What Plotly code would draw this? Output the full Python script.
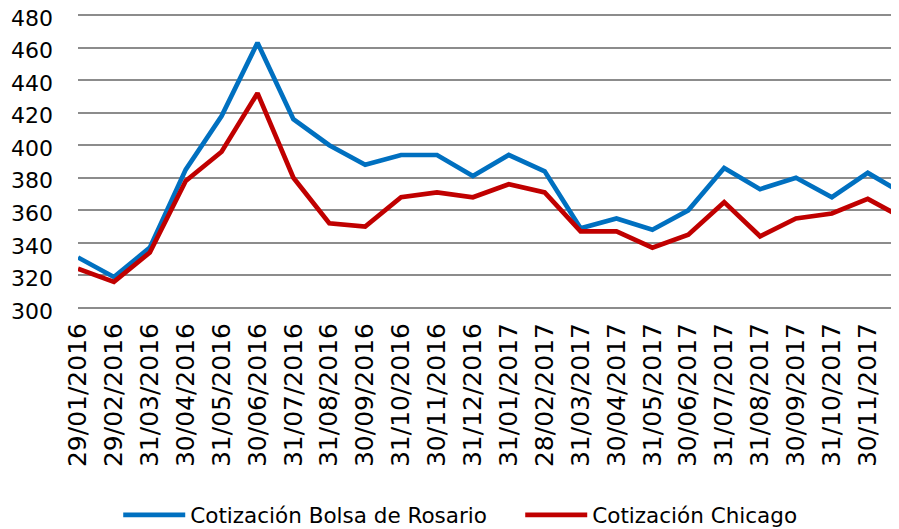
import plotly.graph_objects as go

# Monthly closing dates (last one sits past the visible edge, as in the source chart)
DATES = [
    "29/01/2016", "29/02/2016", "31/03/2016", "30/04/2016", "31/05/2016",
    "30/06/2016", "31/07/2016", "31/08/2016", "30/09/2016", "31/10/2016",
    "30/11/2016", "31/12/2016", "31/01/2017", "28/02/2017", "31/03/2017",
    "30/04/2017", "31/05/2017", "30/06/2017", "31/07/2017", "31/08/2017",
    "30/09/2017", "31/10/2017", "30/11/2017", "31/12/2017",
]

ROSARIO = [
    331, 319, 337, 385, 418, 463, 416, 400, 388, 394, 394, 381,
    394, 384, 349, 355, 348, 360, 386, 373, 380, 368, 383, 370,
]

CHICAGO = [
    324, 316, 334, 378, 396, 432, 380, 352, 350, 368, 371, 368,
    376, 371, 347, 347, 337, 345, 365, 344, 355, 358, 367, 355,
]

FONT = "DejaVu Sans"

fig = go.Figure()

fig.add_trace(
    go.Scatter(
        x=DATES,
        y=ROSARIO,
        name="Cotización Bolsa de Rosario",
        mode="lines",
        line=dict(color="#0070C0", width=4.7),
    )
)
fig.add_trace(
    go.Scatter(
        x=DATES,
        y=CHICAGO,
        name="Cotización Chicago",
        mode="lines",
        line=dict(color="#C00000", width=4.7),
    )
)

# the page body adds an 8px margin, so the figure is a bit smaller than the window
fig.update_layout(
    width=891,
    height=521,
    margin=dict(l=70, r=0, t=6, b=220, autoexpand=False),
    paper_bgcolor="white",
    plot_bgcolor="white",
    font=dict(family=FONT, color="black"),
    showlegend=True,
    legend=dict(
        orientation="h",
        x=0.049,
        xanchor="left",
        y=-0.698,
        yanchor="middle",
        font=dict(size=21.5, family=FONT),
        itemwidth=62,
        entrywidth=325,
        entrywidthmode="pixels",
        bgcolor="rgba(0,0,0,0)",
    ),
    xaxis=dict(
        type="category",
        range=[0, 22.87],
        tickmode="linear",
        tick0=0,
        dtick=1,
        tickangle=-90,
        tickfont=dict(size=25),
        ticklabelstandoff=8,
        showgrid=False,
        showline=False,
        zeroline=False,
        ticks="",
        automargin=False,
    ),
    yaxis=dict(
        range=[299.3, 480.7],
        tickmode="linear",
        tick0=300,
        dtick=20,
        tickfont=dict(size=22),
        ticklabelstandoff=24,
        ticklabelshift=3,
        ticklabeloverflow="allow",
        showgrid=True,
        gridcolor="#8c8c8c",
        gridwidth=2,
        showline=False,
        zeroline=False,
        ticks="",
        automargin=False,
    ),
)

fig.write_html("out.html")
